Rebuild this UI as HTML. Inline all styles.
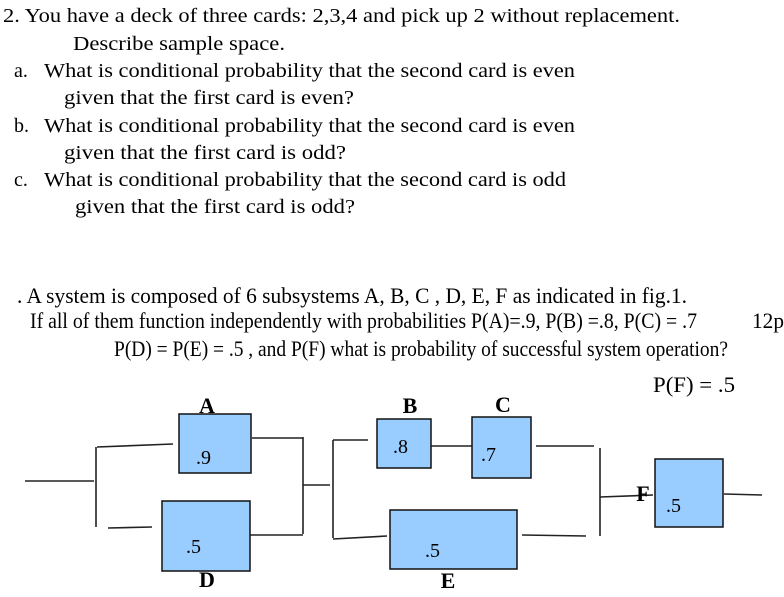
<!DOCTYPE html>
<html><head><meta charset="utf-8"><style>body{margin:0;background:#fff}svg{display:block}</style></head>
<body>
<svg width="784" height="597" xmlns="http://www.w3.org/2000/svg" font-family="Liberation Serif, serif" fill="#000">
<g font-size="20">
<text x="3" y="22" textLength="677" lengthAdjust="spacingAndGlyphs">2. You have a deck of three cards: 2,3,4 and pick up 2 without replacement.</text>
<text x="73" y="50" textLength="212" lengthAdjust="spacingAndGlyphs">Describe sample space.</text>
<text x="14" y="77">a.</text>
<text x="44" y="77" textLength="531" lengthAdjust="spacingAndGlyphs">What is conditional probability that the second card is even</text>
<text x="64" y="104" textLength="290" lengthAdjust="spacingAndGlyphs">given that the first card is even?</text>
<text x="14" y="132">b.</text>
<text x="44" y="132" textLength="531" lengthAdjust="spacingAndGlyphs">What is conditional probability that the second card is even</text>
<text x="64" y="159" textLength="282" lengthAdjust="spacingAndGlyphs">given that the first card is  odd?</text>
<text x="14" y="186">c.</text>
<text x="44" y="186" textLength="522" lengthAdjust="spacingAndGlyphs">What is conditional probability that the second card is odd</text>
<text x="75" y="213" textLength="280" lengthAdjust="spacingAndGlyphs">given that the first card is odd?</text>
</g>
<g font-size="22">
<text x="17" y="303" textLength="670" lengthAdjust="spacingAndGlyphs">. A system is composed of  6 subsystems A, B, C , D, E, F as indicated in fig.1.</text>
<text x="30" y="328" textLength="667" lengthAdjust="spacingAndGlyphs">If all of them function independently with probabilities P(A)=.9,  P(B) =.8,  P(C) = .7</text>
<text x="752" y="328" textLength="32" lengthAdjust="spacingAndGlyphs">12p</text>
<text x="114" y="356" textLength="614" lengthAdjust="spacingAndGlyphs">P(D) = P(E) = .5 , and P(F) what is probability of successful system operation?</text>
<text x="653" y="392" textLength="82" lengthAdjust="spacingAndGlyphs">P(F) = .5</text>
</g>
<g stroke="#222" stroke-width="1.6" fill="none">
<path d="M25 481H94M96 447V527M97 447L173 444M108 528L152 527"/>
<path d="M252 438H303M303 437V534M250 535H303M303 485H330M333 440V538M333 440H368M333 539L387 536"/>
<path d="M431 446H472M536 446H594M522 535L586 536M600 448V536M600 497L653 495M724 494L762 495"/>
</g>
<g fill="#99ccff" stroke="#111" stroke-width="1.5">
<rect x="179" y="414" width="72" height="59"/>
<rect x="162" y="501" width="88" height="70"/>
<rect x="377" y="419" width="54" height="49"/>
<rect x="472" y="417" width="59" height="61"/>
<rect x="390" y="510" width="127" height="59"/>
<rect x="655" y="459" width="68" height="68"/>
</g>
<g font-size="20">
<text x="196" y="464">.9</text>
<text x="186" y="553">.5</text>
<text x="393" y="453">.8</text>
<text x="481" y="461">.7</text>
<text x="425" y="557">.5</text>
<text x="666" y="512">.5</text>
</g>
<g font-size="22" font-weight="bold" text-anchor="middle">
<text x="207" y="413">A</text>
<text x="410" y="413">B</text>
<text x="503" y="412">C</text>
<text x="207" y="587">D</text>
<text x="448" y="588">E</text>
<text x="643" y="501">F</text>
</g>
</svg>
</body></html>
